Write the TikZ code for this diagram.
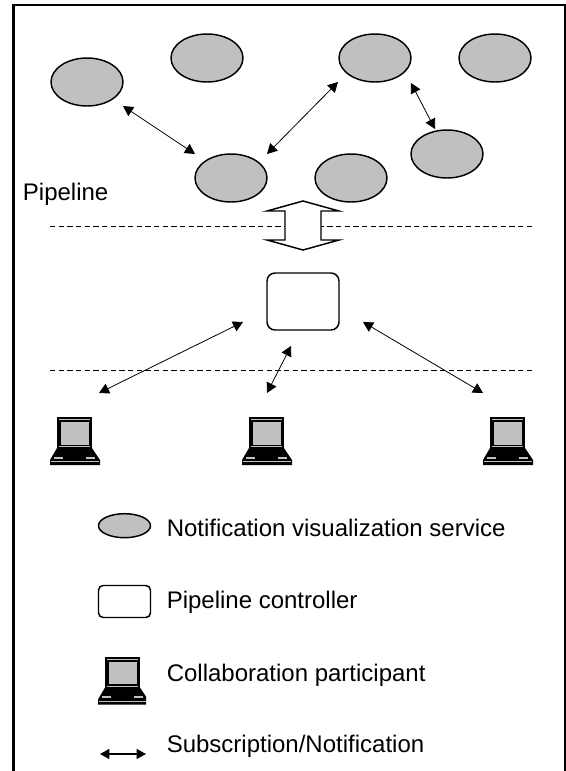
\documentclass[tikz,border=0pt]{standalone}
\usepackage{fontspec}
\setmainfont{Liberation Sans}
\usetikzlibrary{
    arrows.meta,
    shapes.geometric,
    positioning
}
\definecolor{servicegray}{HTML}{C0C0C0}
\tikzset{
    service/.style={draw, ellipse, line width=1.1pt, fill=servicegray, minimum width=54pt, minimum height=36pt, inner sep=0},
    controller/.style={draw, rounded corners=6pt, line width=1.1pt, fill=white, inner sep=0},
    link/.style={line width=0.6pt, {Triangle[length=7.5pt,width=8pt]}-{Triangle[length=7.5pt,width=8pt]}},
    pipe/.style={dashed, dash pattern=on 4pt off 2.5pt, line width=0.6pt},
    legendtext/.style={anchor=base west, inner sep=0, font=\fontsize{18}{20}\selectfont},
    laptop/.pic={
        \fill[black] (7, 0) rectangle (42, -31);
        \fill[black] (7, -31) -- (0, -43) -- (0, -48) -- (50, -48) -- (50, -43) -- (42, -31) -- cycle;
        \fill[servicegray] (9, -2) rectangle (40, -3.2);
        \fill[servicegray] (11, -5) rectangle (39, -27.5);
        \fill[servicegray] (9, -29) rectangle (40, -30);
        \fill[servicegray] (4, -39.5) rectangle (13, -41.5);
        \fill[servicegray] (36, -39.5) rectangle (45, -41.5);
        \fill[servicegray] (1, -44.3) rectangle (49, -45.3);
    }
}
\begin{document}
\begin{tikzpicture}[x=0.75pt, y=0.75pt]
    \useasboundingbox (0, 0) rectangle (566, -771);
    % frame, open at the bottom
    \draw[line width=1.7pt] (13.5, -771) -- (13.5, -5) -- (565, -5) -- (565, -771);
    % services
    \node[service] (svcA) at (87, -82) {};
    \node[service] (svcB) at (207, -58) {};
    \node[service] (svcC) at (375, -58) {};
    \node[service] (svcD) at (495, -58) {};
    \node[service] (svcE) at (447, -154) {};
    \node[service] (svcF) at (231, -178) {};
    \node[service] (svcG) at (351, -178) {};
    \node[legendtext] (pipelinelabel) at (22.7, -200) {Pipeline};
    % dashed borders of the pipeline
    \coordinate (upperL) at (50, -226);
    \coordinate (upperR) at (532, -226);
    \coordinate (lowerL) at (50, -370);
    \coordinate (lowerR) at (532, -370);
    \draw[pipe] (upperL) -- (upperR);
    \draw[pipe] (lowerL) -- (lowerR);
    % big arrow
    \draw[line width=1.1pt, fill=white] (303, -201) -- (339, -211) -- (321, -211) -- (321, -240) -- (339, -240) -- (303, -250) -- (267, -240) -- (285, -240) -- (285, -211) -- (267, -211) -- cycle;
    \node[controller, minimum width=54pt, minimum height=42.75pt] (ctrl) at (303, -301.5) {};
    % participants
    \pic at (50, -417) {laptop};
    \pic at (242, -417) {laptop};
    \pic at (483, -417) {laptop};
    % free ends of the links
    \coordinate (a1) at (123, -106);
    \coordinate (a2) at (195, -154);
    \coordinate (b1) at (338, -82);
    \coordinate (b2) at (267, -154);
    \coordinate (c1) at (411, -83);
    \coordinate (c2) at (435, -129);
    \coordinate (d1) at (243, -322);
    \coordinate (d2) at (99, -393);
    \coordinate (e1) at (291, -346);
    \coordinate (e2) at (267, -393);
    \coordinate (f1) at (363, -322);
    \coordinate (f2) at (483, -393);
    \draw[link] (a1) -- (a2);
    \draw[link] (b1) -- (b2);
    \draw[link] (c1) -- (c2);
    \draw[link] (d1) -- (d2);
    \draw[link] (e1) -- (e2);
    \draw[link] (f1) -- (f2);
    % legend
    \node[service, minimum width=39pt, minimum height=18pt] (legendsvc) at (124.5, -525.7) {};
    \node[controller, rounded corners=3.5pt, minimum width=39pt, minimum height=24pt] (legendctrl) at (124.5, -601.5) {};
    \begin{scope}
        \clip (98, -650) rectangle (146, -710);
        \pic at (98, -656.5) {laptop};
    \end{scope}
    \coordinate (legendL) at (100, -754);
    \coordinate (legendR) at (146, -754);
    \draw[line width=0.9pt, {Triangle[length=7pt,width=7.5pt]}-{Triangle[length=7pt,width=7.5pt]}] (legendL) -- (legendR);
    \node[legendtext] (legendA) at (166.5, -536.7) {Notification visualization service};
    \node[legendtext] (legendB) at (166.5, -608.3) {Pipeline controller};
    \node[legendtext] (legendC) at (166.5, -681) {Collaboration participant};
    \node[legendtext] (legendD) at (166.5, -752.7) {Subscription/Notification};
\end{tikzpicture}
\end{document}
